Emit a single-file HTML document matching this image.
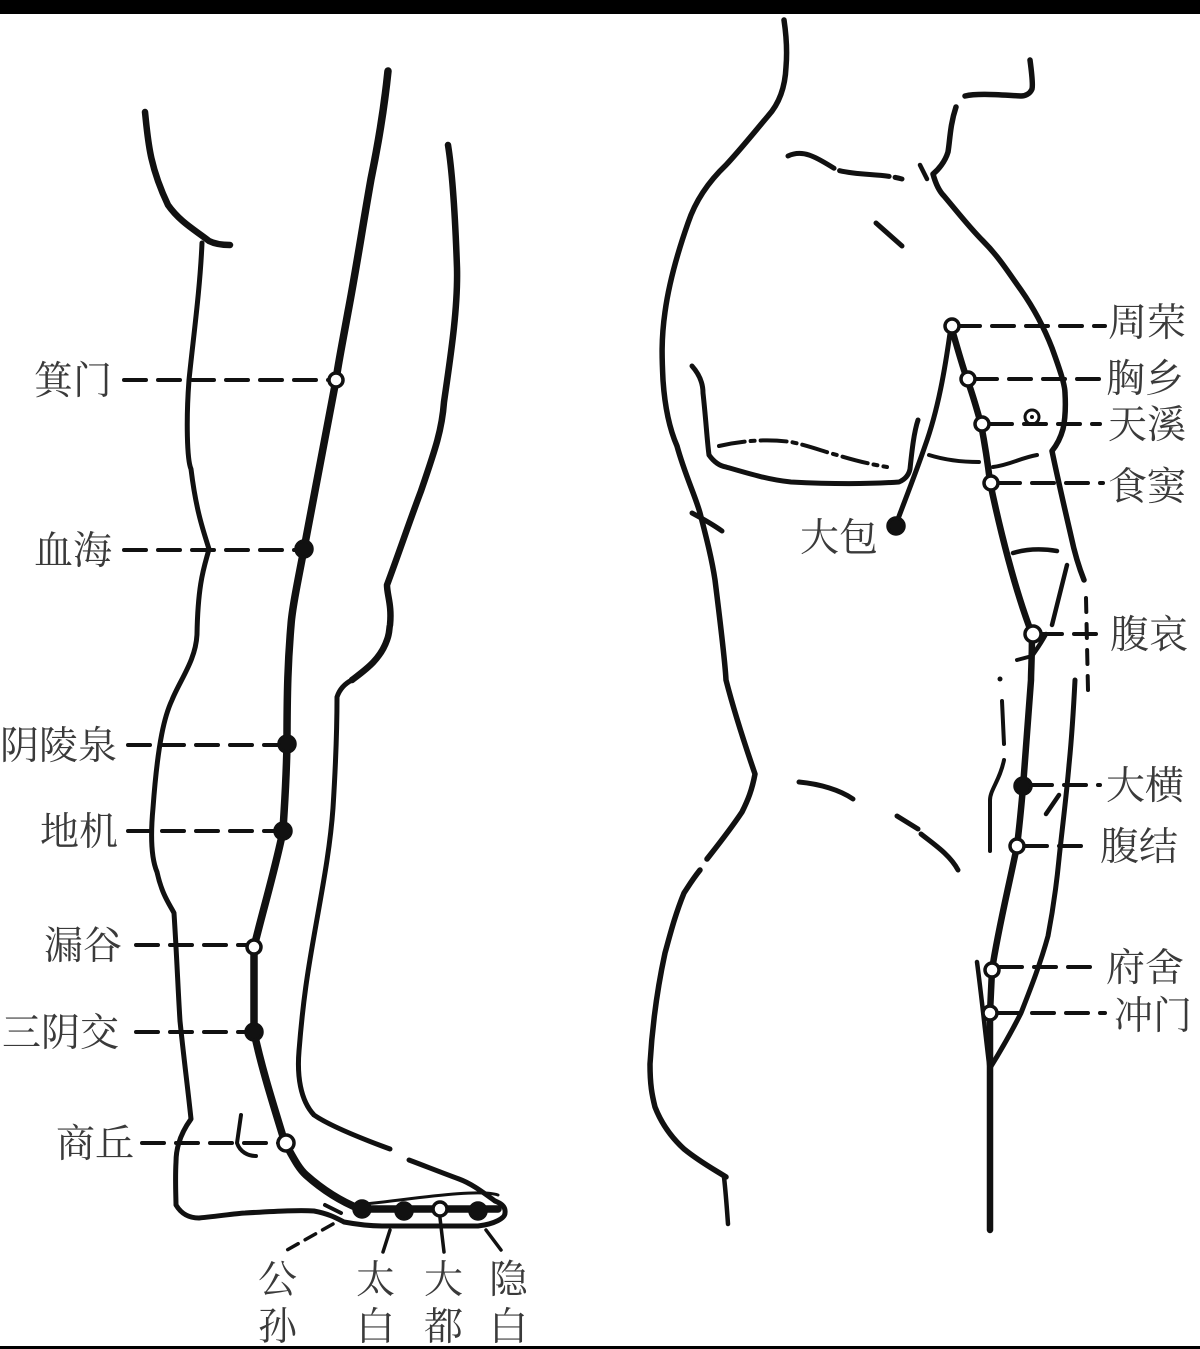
<!DOCTYPE html>
<html><head><meta charset="utf-8"><style>
html,body{margin:0;padding:0;background:#fff;}
svg{display:block}
text{font-family:"Liberation Serif","Noto Serif CJK SC","Noto Sans CJK SC",serif;font-size:39px;fill:#3a3a3a;}
</style></head><body>
<svg width="1200" height="1349" viewBox="0 0 1200 1349" xmlns="http://www.w3.org/2000/svg">
<rect x="0" y="0" width="1200" height="14" fill="#000"/>
<rect x="0" y="1346" width="1200" height="3" fill="#000"/>
<g fill="none" stroke="#111" stroke-linecap="round" stroke-linejoin="round">
<!-- LEFT LEG -->
<path d="M145,112 C148,140 149,165 168,205 C180,222 195,230 209,241 C215,244 222,245 230,245" stroke-width="6.5"/>
<path d="M202,243 C200,290 193,340 189,380 C186,420 187,460 191,469 C196,510 203,530 209,549 C205,565 198,580 197,634 C196,660 180,680 172,700 C165,715 158,740 153,808 C150,840 152,860 157,872 C162,895 170,905 174,913 C177,960 178,990 180,1021 C184,1060 188,1090 191,1119 C183,1130 176,1145 176,1162 C175,1180 176,1198 176,1205 C182,1215 190,1218 199,1218 C220,1216 240,1213 245,1213 C280,1211 300,1210 314,1211 C330,1214 338,1219 344,1222 C360,1225 370,1226 383,1226 L478,1226 C495,1224 505,1218 505,1213 C506,1206 500,1203 495,1201" stroke-width="5"/>
<path d="M495,1201 C480,1190 470,1183 459,1179 C440,1172 425,1166 409,1160" stroke-width="5"/>
<path d="M390,1149 C360,1138 330,1126 314,1115 C300,1100 297,1075 299,1051 C303,1000 308,970 314,936 C322,890 330,850 333,808 C336,760 337,720 337,697 C340,688 346,683 352,680" stroke-width="5"/>
<path d="M352,680 C365,670 380,660 387,640 C390,632 389,628 390,625 C392,605 387,595 387,585 C400,550 410,520 421,491 C435,450 442,430 444,402 C450,360 458,310 457,268 C455,210 452,170 448,145" stroke-width="6.5"/>
<path d="M388,71 C384,110 378,145 371,179 C362,230 356,270 348,312 C342,345 338,365 336,380 C327,430 315,490 304,549 C297,585 292,610 291,625 C288,660 287,690 287,744 C286,790 284,810 283,831 C275,870 263,910 254,947 L254,1032 C262,1070 275,1110 285,1143 C292,1155 298,1168 306,1175 C325,1192 345,1203 360,1209 L498,1209" stroke-width="7.5"/>
<path d="M344,1204 C358,1209 470,1186 498,1195" stroke-width="3"/>
<path d="M241,1115 L237,1143 C240,1152 248,1156 256,1156" stroke-width="4"/>
<path d="M325,1205 L341,1213" stroke-width="4"/>
<path d="M333,1224 L287,1250" stroke-width="3.5" stroke-dasharray="12,8"/>
<path d="M390,1230 L383,1252" stroke-width="3.5"/>
<path d="M440,1218 L444,1252" stroke-width="3.5"/>
<path d="M486,1230 L501,1250" stroke-width="3.5"/>
<g stroke-width="4" stroke-dasharray="22,12">
<path d="M124,380 L330,380"/>
<path d="M124,550 L300,550"/>
<path d="M128,745 L280,745"/>
<path d="M128,831 L278,831"/>
<path d="M136,945 L250,945"/>
<path d="M136,1032 L250,1032"/>
<path d="M142,1143 L280,1143"/>
</g>
<!-- RIGHT TORSO -->
<path d="M784,20 C787,40 787,55 786,67 C785,90 778,105 768,116 C752,135 740,150 726,165 C705,185 694,205 688,223 C675,260 668,290 665,312 C661,340 662,360 663,380 C665,410 670,430 677,446 C685,475 695,495 700,513 C707,540 712,560 715,580 C720,620 725,660 726,680 C735,715 745,745 755,774 C752,790 748,800 742,812 C730,830 718,845 707,859" stroke-width="5.5"/>
<path d="M700,870 C692,880 688,887 684,893 C675,915 670,935 665,953 C657,990 652,1030 650,1064 C650,1085 652,1095 655,1107 C662,1125 672,1138 684,1149 C700,1162 715,1170 726,1177" stroke-width="5.5"/>
<path d="M724,1177 C726,1195 727,1210 728,1224" stroke-width="4.5"/>
<path d="M788,156 C805,148 820,160 837,170 C860,176 880,173 902,179" stroke-width="5" stroke-dasharray="50,6"/>
<path d="M920,165 L927,179" stroke-width="4.5"/>
<path d="M1030,60 C1032,75 1033,85 1032,89 C1030,94 1025,96 1021,96 C1000,95 978,93 965,96 M956,107 C950,125 950,140 948,152 C945,162 938,170 933,174 C936,185 940,192 944,196 C960,215 970,228 983,241 C1000,258 1010,275 1021,290 C1035,310 1045,330 1052,348 C1060,370 1065,385 1065,393 C1066,410 1065,420 1063,429 C1060,440 1056,446 1052,451 C1058,480 1065,510 1071,536 C1075,555 1080,570 1084,580" stroke-width="5.5"/>
<path d="M1086,598 L1088,690" stroke-width="4" stroke-dasharray="14,12"/>
<path d="M1075,680 C1073,720 1071,745 1069,765 C1066,800 1062,830 1059,859 C1056,890 1052,915 1048,936 C1040,965 1030,990 1021,1013 C1010,1035 998,1055 990,1068" stroke-width="5"/>
<path d="M876,223 L902,246" stroke-width="5"/>
<path d="M692,366 C700,375 703,385 703,393 C706,420 707,440 709,455 C714,462 720,466 726,467 C750,474 770,480 791,482 C830,484 870,484 899,482 C906,479 909,474 910,469 C912,450 914,432 918,420" stroke-width="5"/>
<path d="M719,446 C745,440 770,439 791,442 C810,446 825,452 837,455 C860,462 875,465 887,467" stroke-width="4" stroke-dasharray="26,6,4,6"/>
<path d="M692,513 C705,520 715,526 722,531" stroke-width="5"/>
<path d="M951,326 C945,370 938,410 925,446 C915,475 905,500 895,527" stroke-width="5"/>
<path d="M929,455 C945,460 960,462 979,462" stroke-width="4"/>
<path d="M993,467 C1010,465 1020,458 1037,455" stroke-width="4"/>
<path d="M951,326 C958,350 962,365 967,379 C973,395 977,410 981,424 C985,445 988,465 990,482 C1000,530 1015,590 1032,634 C1032,660 1031,670 1031,680 C1028,720 1025,760 1023,787 C1021,810 1019,830 1017,846 C1008,890 998,930 992,970 L990,1013 L990,1230" stroke-width="6.5"/>
<path d="M977,962 C982,1000 986,1040 990,1072" stroke-width="4.5"/>
<path d="M1013,553 C1030,548 1045,549 1057,551" stroke-width="4.5"/>
<path d="M1067,565 L1052,625 M1046,634 C1040,645 1036,650 1032,656" stroke-width="4.5"/>
<path d="M1017,660 L1032,656" stroke-width="4"/>
<circle cx="1000" cy="679" r="2.5" fill="#111" stroke="none"/>
<path d="M1002,701 L1004,744" stroke-width="4"/>
<path d="M1004,760 C1000,780 990,790 990,800 L990,851" stroke-width="4"/>
<path d="M1046,814 L1059,795" stroke-width="4.5"/>
<path d="M799,782 C820,784 840,790 853,799" stroke-width="5"/>
<path d="M897,816 L918,829 M921,834 C935,845 950,855 958,870" stroke-width="5"/>
<circle cx="1032" cy="417" r="7" stroke-width="3"/>
<circle cx="1032" cy="417" r="2" fill="#111" stroke="none"/>
<g stroke-width="4" stroke-dasharray="22,12">
<path d="M958,326 L1105,326"/>
<path d="M975,379 L1100,379"/>
<path d="M990,424 L1100,424"/>
<path d="M998,483 L1103,483"/>
<path d="M1040,634 L1105,634"/>
<path d="M1030,785 L1100,785"/>
<path d="M1025,846 L1090,846"/>
<path d="M1000,967 L1100,967"/>
<path d="M998,1013 L1105,1013"/>
</g>
</g>
<g stroke="#111" stroke-width="3.5">
<circle cx="336" cy="380" r="7" fill="#fff"/>
<circle cx="304" cy="549" r="8" fill="#111"/>
<circle cx="287" cy="744" r="8" fill="#111"/>
<circle cx="283" cy="831" r="8" fill="#111"/>
<circle cx="254" cy="947" r="7" fill="#fff"/>
<circle cx="254" cy="1032" r="8" fill="#111"/>
<circle cx="286" cy="1143" r="8" fill="#fff"/>
<circle cx="362" cy="1209" r="8" fill="#111"/>
<circle cx="404" cy="1211" r="8" fill="#111"/>
<circle cx="440" cy="1209" r="7" fill="#fff"/>
<circle cx="478" cy="1211" r="8" fill="#111"/>
<circle cx="952" cy="326" r="7" fill="#fff"/>
<circle cx="968" cy="379" r="7" fill="#fff"/>
<circle cx="982" cy="424" r="7" fill="#fff"/>
<circle cx="991" cy="483" r="7" fill="#fff"/>
<circle cx="896" cy="526" r="8" fill="#111"/>
<circle cx="1033" cy="634" r="8" fill="#fff"/>
<circle cx="1023" cy="786" r="8" fill="#111"/>
<circle cx="1017" cy="846" r="7" fill="#fff"/>
<circle cx="992" cy="970" r="7" fill="#fff"/>
<circle cx="990" cy="1013" r="7" fill="#fff"/>
</g>
<text x="34" y="394">箕门</text>
<text x="34" y="564">血海</text>
<text x="0" y="759">阴陵泉</text>
<text x="40" y="845">地机</text>
<text x="44" y="959">漏谷</text>
<text x="2" y="1046">三阴交</text>
<text x="56" y="1157">商丘</text>
<text x="258" y="1293">公</text>
<text x="258" y="1340">孙</text>
<text x="356" y="1293">太</text>
<text x="356" y="1340">白</text>
<text x="424" y="1293">大</text>
<text x="424" y="1340">都</text>
<text x="489" y="1293">隐</text>
<text x="489" y="1340">白</text>
<text x="1108" y="336">周荣</text>
<text x="1106" y="392">胸乡</text>
<text x="1108" y="438">天溪</text>
<text x="1108" y="500">食窦</text>
<text x="800" y="551">大包</text>
<text x="1110" y="648">腹哀</text>
<text x="1106" y="799">大横</text>
<text x="1100" y="860">腹结</text>
<text x="1106" y="981">府舍</text>
<text x="1114" y="1029">冲门</text>
</svg>
</body></html>
